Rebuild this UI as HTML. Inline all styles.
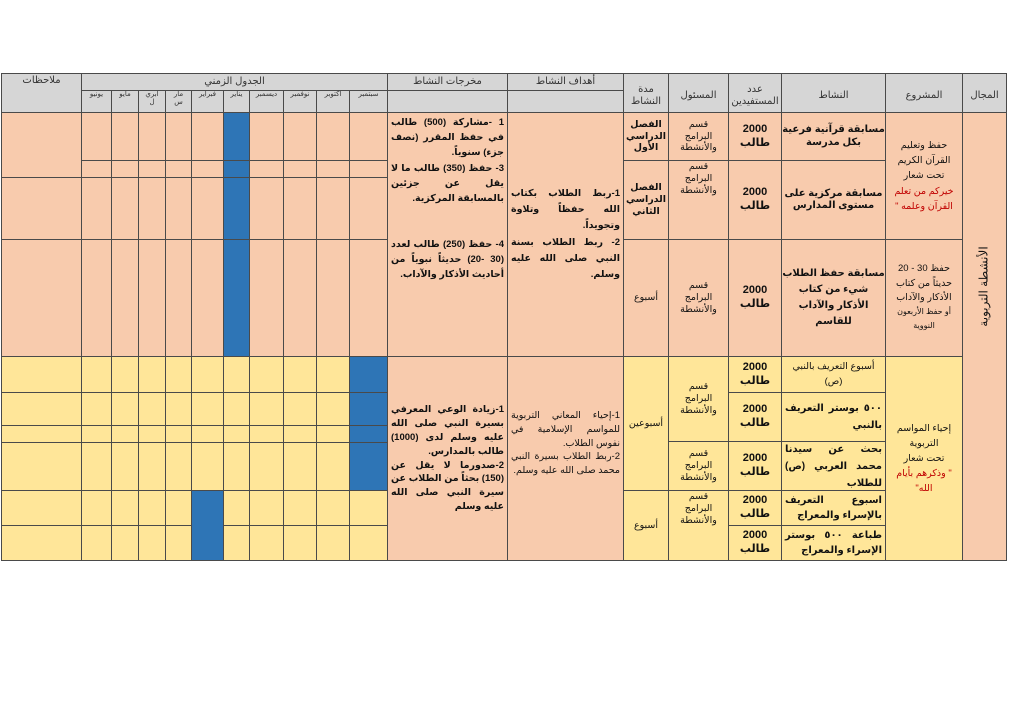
<!DOCTYPE html>
<html><head><meta charset="utf-8">
<style>
body{margin:0;width:1024px;height:724px;background:#fff;position:relative;overflow:hidden;font-family:"Liberation Sans","DejaVu Sans",sans-serif;}
.c{position:absolute;border:1px solid #4a4a4a;box-sizing:border-box;display:flex;align-items:center;justify-content:center;text-align:center;direction:rtl;line-height:1.25;color:#111;overflow:hidden;}
.c>div{width:100%;}
.h{background:#d6d6d6;font-size:10px;color:#333;}
.p{background:#f8cbad;}
.y{background:#ffe699;}
.b{background:#2e75b6;}
.m{font-size:7px;line-height:1.1;}
.t{font-size:9.5px;font-weight:bold;}
.n{font-size:9.5px;}
.j>div{text-align:justify;text-align-last:right;padding:0 3px;box-sizing:border-box;}
.r{color:#c00000;}
</style></head><body>
<div class="c h" style="left:1px;top:73px;width:81px;height:40px;align-items:flex-start;padding-top:1px"><div>ملاحظات</div></div>
<div class="c h" style="left:81px;top:73px;width:307px;height:18px"><div>الجدول الزمني</div></div>
<div class="c h" style="left:387px;top:73px;width:121px;height:18px"><div>مخرجات النشاط</div></div>
<div class="c h" style="left:507px;top:73px;width:117px;height:18px"><div>أهداف النشاط</div></div>
<div class="c h" style="left:387px;top:90px;width:121px;height:23px"></div>
<div class="c h" style="left:507px;top:90px;width:117px;height:23px"></div>
<div class="c h" style="left:623px;top:73px;width:46px;height:40px;padding-top:6px"><div>مدة<br>النشاط</div></div>
<div class="c h" style="left:668px;top:73px;width:61px;height:40px;padding-top:6px"><div>المسئول</div></div>
<div class="c h" style="left:728px;top:73px;width:54px;height:40px;padding-top:6px"><div>عدد<br>المستفيدين</div></div>
<div class="c h" style="left:781px;top:73px;width:105px;height:40px;padding-top:6px"><div>النشاط</div></div>
<div class="c h" style="left:885px;top:73px;width:78px;height:40px;padding-top:6px"><div>المشروع</div></div>
<div class="c h" style="left:962px;top:73px;width:45px;height:40px;padding-top:6px"><div>المجال</div></div>
<div class="c h m" style="left:81px;top:90px;width:31px;height:23px;align-items:flex-start"><div>يونيو</div></div>
<div class="c h m" style="left:111px;top:90px;width:28px;height:23px;align-items:flex-start"><div>مايو</div></div>
<div class="c h m" style="left:138px;top:90px;width:28px;height:23px;align-items:flex-start"><div>ابري<br>ل</div></div>
<div class="c h m" style="left:165px;top:90px;width:27px;height:23px;align-items:flex-start"><div>مار<br>س</div></div>
<div class="c h m" style="left:191px;top:90px;width:33px;height:23px;align-items:flex-start"><div>فبراير</div></div>
<div class="c h m" style="left:223px;top:90px;width:27px;height:23px;align-items:flex-start"><div>يناير</div></div>
<div class="c h m" style="left:249px;top:90px;width:35px;height:23px;align-items:flex-start"><div>ديسمبر</div></div>
<div class="c h m" style="left:283px;top:90px;width:34px;height:23px;align-items:flex-start"><div>نوفمبر</div></div>
<div class="c h m" style="left:316px;top:90px;width:34px;height:23px;align-items:flex-start"><div>اكتوبر</div></div>
<div class="c h m" style="left:349px;top:90px;width:39px;height:23px;align-items:flex-start"><div>سبتمبر</div></div>

<div id="grid"></div>

<div class="c p t j" style="left:387px;top:112px;width:121px;height:245px;align-items:flex-start;padding-top:2px;line-height:1.6"><div>1 -مشاركة (500) طالب في حفظ المقرر (نصف جزء) سنوياً.<br>3- حفظ (350) طالب ما لا يقل عن جزئين بالمسابقة المركزية.<br><br><br>4- حفظ (250) طالب لعدد (30 -20) حديثاً نبوياً من أحاديث الأذكار والآداب.</div></div>
<div class="c p t j" style="left:507px;top:112px;width:117px;height:245px;line-height:1.7"><div>1-ربط الطلاب بكتاب الله حفظاً وتلاوة وتجويداً.<br>2- ربط الطلاب بسنة النبي صلى الله عليه وسلم.</div></div>
<div class="c p t" style="left:623px;top:112px;width:46px;height:49px"><div>الفصل الدراسي الأول</div></div>
<div class="c p t" style="left:623px;top:160px;width:46px;height:80px"><div>الفصل الدراسي الثاني</div></div>
<div class="c p n" style="left:623px;top:239px;width:46px;height:118px"><div>أسبوع</div></div>
<div class="c p n" style="left:668px;top:112px;width:61px;height:49px"><div>قسم<br>البرامج<br>والأنشطة</div></div>
<div class="c p n" style="left:668px;top:160px;width:61px;height:80px;align-items:flex-start"><div>قسم<br>البرامج<br>والأنشطة</div></div>
<div class="c p n" style="left:668px;top:239px;width:61px;height:118px"><div>قسم<br>البرامج<br>والأنشطة</div></div>
<div class="c p t" style="left:728px;top:112px;width:54px;height:49px;font-size:11px"><div>2000<br>طالب</div></div>
<div class="c p t" style="left:728px;top:160px;width:54px;height:80px;font-size:11px"><div>2000<br>طالب</div></div>
<div class="c p t" style="left:728px;top:239px;width:54px;height:118px;font-size:11px"><div>2000<br>طالب</div></div>
<div class="c p t" style="left:781px;top:112px;width:105px;height:49px;font-size:10px"><div>مسابقة قرآنية فرعية بكل مدرسة</div></div>
<div class="c p t" style="left:781px;top:160px;width:105px;height:80px;font-size:10px"><div>مسابقة مركزية على مستوى المدارس</div></div>
<div class="c p t" style="left:781px;top:239px;width:105px;height:118px;font-size:10px;line-height:1.6"><div>مسابقة حفظ الطلاب شيء من كتاب الأذكار والآداب للقاسم</div></div>
<div class="c p n" style="left:885px;top:112px;width:78px;height:128px;line-height:1.6"><div>حفظ وتعليم<br>القرآن الكريم<br>تحت شعار<br><span class="r">خيركم من تعلم<br>القرآن وعلمه "</span></div></div>
<div class="c p n" style="left:885px;top:239px;width:78px;height:118px;line-height:1.5"><div>حفظ 30 - 20<br>حديثاً من كتاب<br>الأذكار والآداب<br><span style="font-size:8px">أو حفظ الأربعون<br>النووية</span></div></div>
<div class="c p" style="left:962px;top:112px;width:45px;height:449px"><div style="transform:rotate(-90deg);white-space:nowrap;font-size:12px;margin-top:-100px;width:auto">الأنشطة التربوية</div></div>

<div class="c p t j" style="left:387px;top:356px;width:121px;height:205px;line-height:1.45"><div>1-زيادة الوعي المعرفي بسيرة النبي صلى الله عليه وسلم لدى (1000) طالب بالمدارس.<br>2-صدورما لا يقل عن (150) بحثاً من الطلاب عن سيرة النبي صلى الله عليه وسلم</div></div>
<div class="c p n j" style="left:507px;top:356px;width:117px;height:205px;line-height:1.45;padding-bottom:30px"><div>1-إحياء المعاني التربوية للمواسم الإسلامية في نفوس الطلاب.<br>2-ربط الطلاب بسيرة النبي محمد صلى الله عليه وسلم.</div></div>
<div class="c y n" style="left:623px;top:356px;width:46px;height:135px"><div>أسبوعين</div></div>
<div class="c y n" style="left:623px;top:490px;width:46px;height:71px"><div>أسبوع</div></div>
<div class="c y n" style="left:668px;top:356px;width:61px;height:86px"><div>قسم<br>البرامج<br>والأنشطة</div></div>
<div class="c y n" style="left:668px;top:441px;width:61px;height:50px"><div>قسم<br>البرامج<br>والأنشطة</div></div>
<div class="c y n" style="left:668px;top:490px;width:61px;height:71px;align-items:flex-start"><div>قسم<br>البرامج<br>والأنشطة</div></div>
<div class="c y t" style="left:728px;top:356px;width:54px;height:37px;font-size:11px"><div>2000<br>طالب</div></div>
<div class="c y t" style="left:728px;top:392px;width:54px;height:50px;font-size:11px"><div>2000<br>طالب</div></div>
<div class="c y t" style="left:728px;top:441px;width:54px;height:50px;font-size:11px"><div>2000<br>طالب</div></div>
<div class="c y t" style="left:728px;top:490px;width:54px;height:36px;font-size:11px"><div>2000<br>طالب</div></div>
<div class="c y t" style="left:728px;top:525px;width:54px;height:36px;font-size:11px"><div>2000<br>طالب</div></div>
<div class="c y" style="left:781px;top:356px;width:105px;height:37px;font-size:9.5px;line-height:1.5"><div>أسبوع التعريف بالنبي<br>(ص)</div></div>
<div class="c y t j" style="left:781px;top:392px;width:105px;height:50px;font-size:10px;line-height:1.7"><div>٥٠٠ بوستر التعريف بالنبي</div></div>
<div class="c y t j" style="left:781px;top:441px;width:105px;height:50px;font-size:10px;line-height:1.7"><div>بحث عن سيدنا محمد العربي (ص) للطلاب</div></div>
<div class="c y t j" style="left:781px;top:490px;width:105px;height:36px;font-size:10px;line-height:1.5"><div>اسبوع التعريف بالإسراء والمعراج</div></div>
<div class="c y t j" style="left:781px;top:525px;width:105px;height:36px;font-size:10px;line-height:1.5"><div>طباعة ٥٠٠ بوستر الإسراء والمعراج</div></div>
<div class="c y n" style="left:885px;top:356px;width:78px;height:205px;line-height:1.6"><div>إحياء المواسم<br>التربوية<br>تحت شعار<br><span class="r">" وذكرهم بأيام<br>الله"</span></div></div>

<script>
var xs=[1,81,111,138,165,191,223,249,283,316,349,387];
var g='';
function row(ys,cls,blueCol,blueY0,blueY1){
 for(var i=0;i<xs.length-1;i++){
  for(var k=0;k<ys.length-1;k++){
   var y0=ys[k],y1=ys[k+1];
   var c=cls;
   if(i==blueCol&&y0>=blueY0&&y1<=blueY1)c='b';
   g+='<div class="c '+c+'" style="left:'+xs[i]+'px;top:'+y0+'px;width:'+(xs[i+1]-xs[i]+1)+'px;height:'+(y1-y0+1)+'px"></div>';
  }
 }
}
row([112,160,177,239,356],'p',6,112,356);
row([356,392,425,442,490,525,560],'y',10,356,490);
g+='<div class="c b" style="left:191px;top:490px;width:33px;height:71px"></div>';
g+='<div class="c p" style="left:1px;top:112px;width:81px;height:66px"></div>';
document.getElementById('grid').innerHTML=g;
</script>
</body></html>
